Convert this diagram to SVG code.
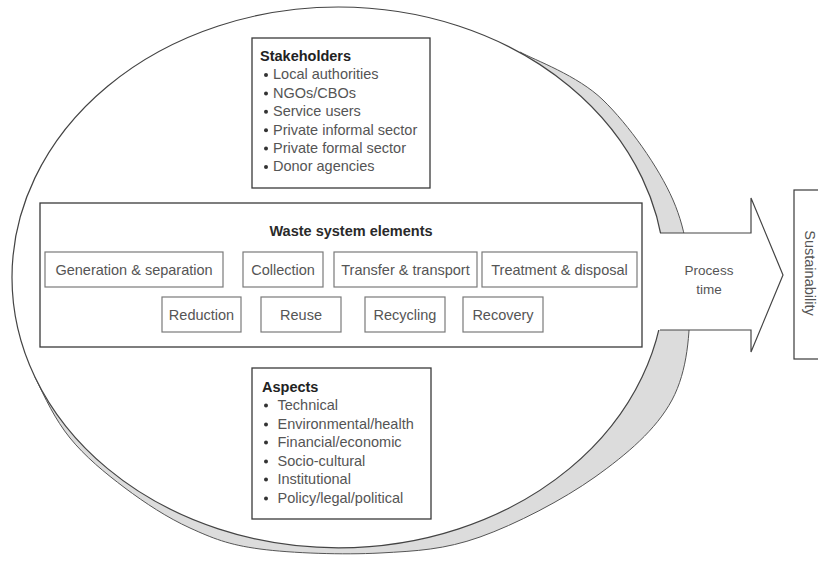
<svg xmlns="http://www.w3.org/2000/svg" width="818" height="563" viewBox="0 0 818 563">
<style>
text{font-family:"Liberation Sans",Arial,sans-serif;}
.hdr{font-size:14.5px;font-weight:bold;fill:#222;}
.ttl{font-size:14.5px;font-weight:bold;fill:#2a2a2a;}
.item{font-size:14.5px;fill:#555;}
.el{font-size:14.5px;fill:#555;text-anchor:middle;}
.pt{font-size:13.5px;fill:#555;text-anchor:middle;}
.box{fill:#fff;stroke:#3a3a3a;stroke-width:1.3;}
.ebox{fill:#fff;stroke:#7a7a7a;stroke-width:1.2;}
.bul{fill:#333;}
</style>
<defs>
<path id="shadow-edge" d="M520,52 C535,60.3 577.5,75.3 603,100 C628.5,124.7 658.5,166.7 673,200 C687.5,233.3 690.2,266.7 690,300 C689.8,333.3 687.8,370.5 672,400 C656.2,429.5 627,454.2 595,477 C563,499.8 515.8,524.3 480,537 C444.2,549.7 416.7,551 380,553 C343.3,555 291.7,553.2 260,549 C228.3,544.8 212.5,538.2 190,528 C167.5,517.8 145,503 125,488 C105,473 85,456.5 70,438 C55,419.5 45,398 35,377"/>
</defs>
<rect width="818" height="563" fill="#fff"/>
<g id="system-ellipse">
<use href="#shadow-edge" fill="#dcdcdc" stroke="none"/>
<use href="#shadow-edge" fill="none" stroke="#555" stroke-width="1"/>
<ellipse cx="338.5" cy="277.4" rx="326.5" ry="270.4" fill="#fff" stroke="#444" stroke-width="1.2"/>
</g>
<g id="stakeholders">
<rect class="box" x="252" y="38" width="178" height="150"/>
<text class="hdr" x="260" y="61">Stakeholders</text>
<circle class="bul" cx="266" cy="75" r="2"/><text class="item" x="273" y="79.4">Local authorities</text>
<circle class="bul" cx="266" cy="93.4" r="2"/><text class="item" x="273" y="97.8">NGOs/CBOs</text>
<circle class="bul" cx="266" cy="111.8" r="2"/><text class="item" x="273" y="116.2">Service users</text>
<circle class="bul" cx="266" cy="130.2" r="2"/><text class="item" x="273" y="134.6">Private informal sector</text>
<circle class="bul" cx="266" cy="148.6" r="2"/><text class="item" x="273" y="153">Private formal sector</text>
<circle class="bul" cx="266" cy="167" r="2"/><text class="item" x="273" y="171.4">Donor agencies</text>
</g>
<g id="waste-system-elements">
<rect class="box" x="40" y="203" width="602" height="144"/>
<text class="ttl" x="351" y="236" text-anchor="middle">Waste system elements</text>
</g>
<g id="generation-separation"><rect class="ebox" x="45" y="252" width="178" height="35"/><text class="el" x="134" y="275">Generation &amp; separation</text></g>
<g id="collection"><rect class="ebox" x="243" y="252" width="80" height="35"/><text class="el" x="283" y="275">Collection</text></g>
<g id="transfer-transport"><rect class="ebox" x="334" y="252" width="143" height="35"/><text class="el" x="405.5" y="275">Transfer &amp; transport</text></g>
<g id="treatment-disposal"><rect class="ebox" x="482" y="252" width="155" height="35"/><text class="el" x="559.5" y="275">Treatment &amp; disposal</text></g>
<g id="reduction"><rect class="ebox" x="162" y="297" width="79" height="35"/><text class="el" x="201.5" y="320">Reduction</text></g>
<g id="reuse"><rect class="ebox" x="261" y="297" width="80" height="35"/><text class="el" x="301" y="320">Reuse</text></g>
<g id="recycling"><rect class="ebox" x="365" y="297" width="80" height="35"/><text class="el" x="405" y="320">Recycling</text></g>
<g id="recovery"><rect class="ebox" x="463" y="297" width="80" height="35"/><text class="el" x="503" y="320">Recovery</text></g>
<g id="aspects">
<rect class="box" x="252" y="368" width="179" height="151"/>
<text class="hdr" x="262" y="392">Aspects</text>
<circle class="bul" cx="266" cy="405.6" r="2"/><text class="item" x="277.5" y="410">Technical</text>
<circle class="bul" cx="266" cy="424.6" r="2"/><text class="item" x="277.5" y="429">Environmental/health</text>
<circle class="bul" cx="266" cy="442.6" r="2"/><text class="item" x="277.5" y="447">Financial/economic</text>
<circle class="bul" cx="266" cy="461.6" r="2"/><text class="item" x="277.5" y="466">Socio-cultural</text>
<circle class="bul" cx="266" cy="479.6" r="2"/><text class="item" x="277.5" y="484">Institutional</text>
<circle class="bul" cx="266" cy="498.6" r="2"/><text class="item" x="277.5" y="503">Policy/legal/political</text>
</g>
<g id="connectors">
<g id="process-time">
<polygon points="646,233 751,233 751,198 783,275 751,352 751,330 646,330" fill="#fff" stroke="none"/>
<polyline points="660,233 751,233 751,198 783,275 751,352 751,330 660,330" fill="none" stroke="#444" stroke-width="1.2" stroke-linejoin="miter"/>
<text class="pt" x="709" y="275">Process</text>
<text class="pt" x="709" y="294">time</text>
</g>
</g>
<g id="sustainability">
<rect x="794" y="190" width="40" height="169" fill="#fff" stroke="#3a3a3a" stroke-width="1.2"/>
<text class="item" x="0" y="0" text-anchor="middle" transform="translate(805,273) rotate(90)">Sustainability</text>
</g>
</svg>
